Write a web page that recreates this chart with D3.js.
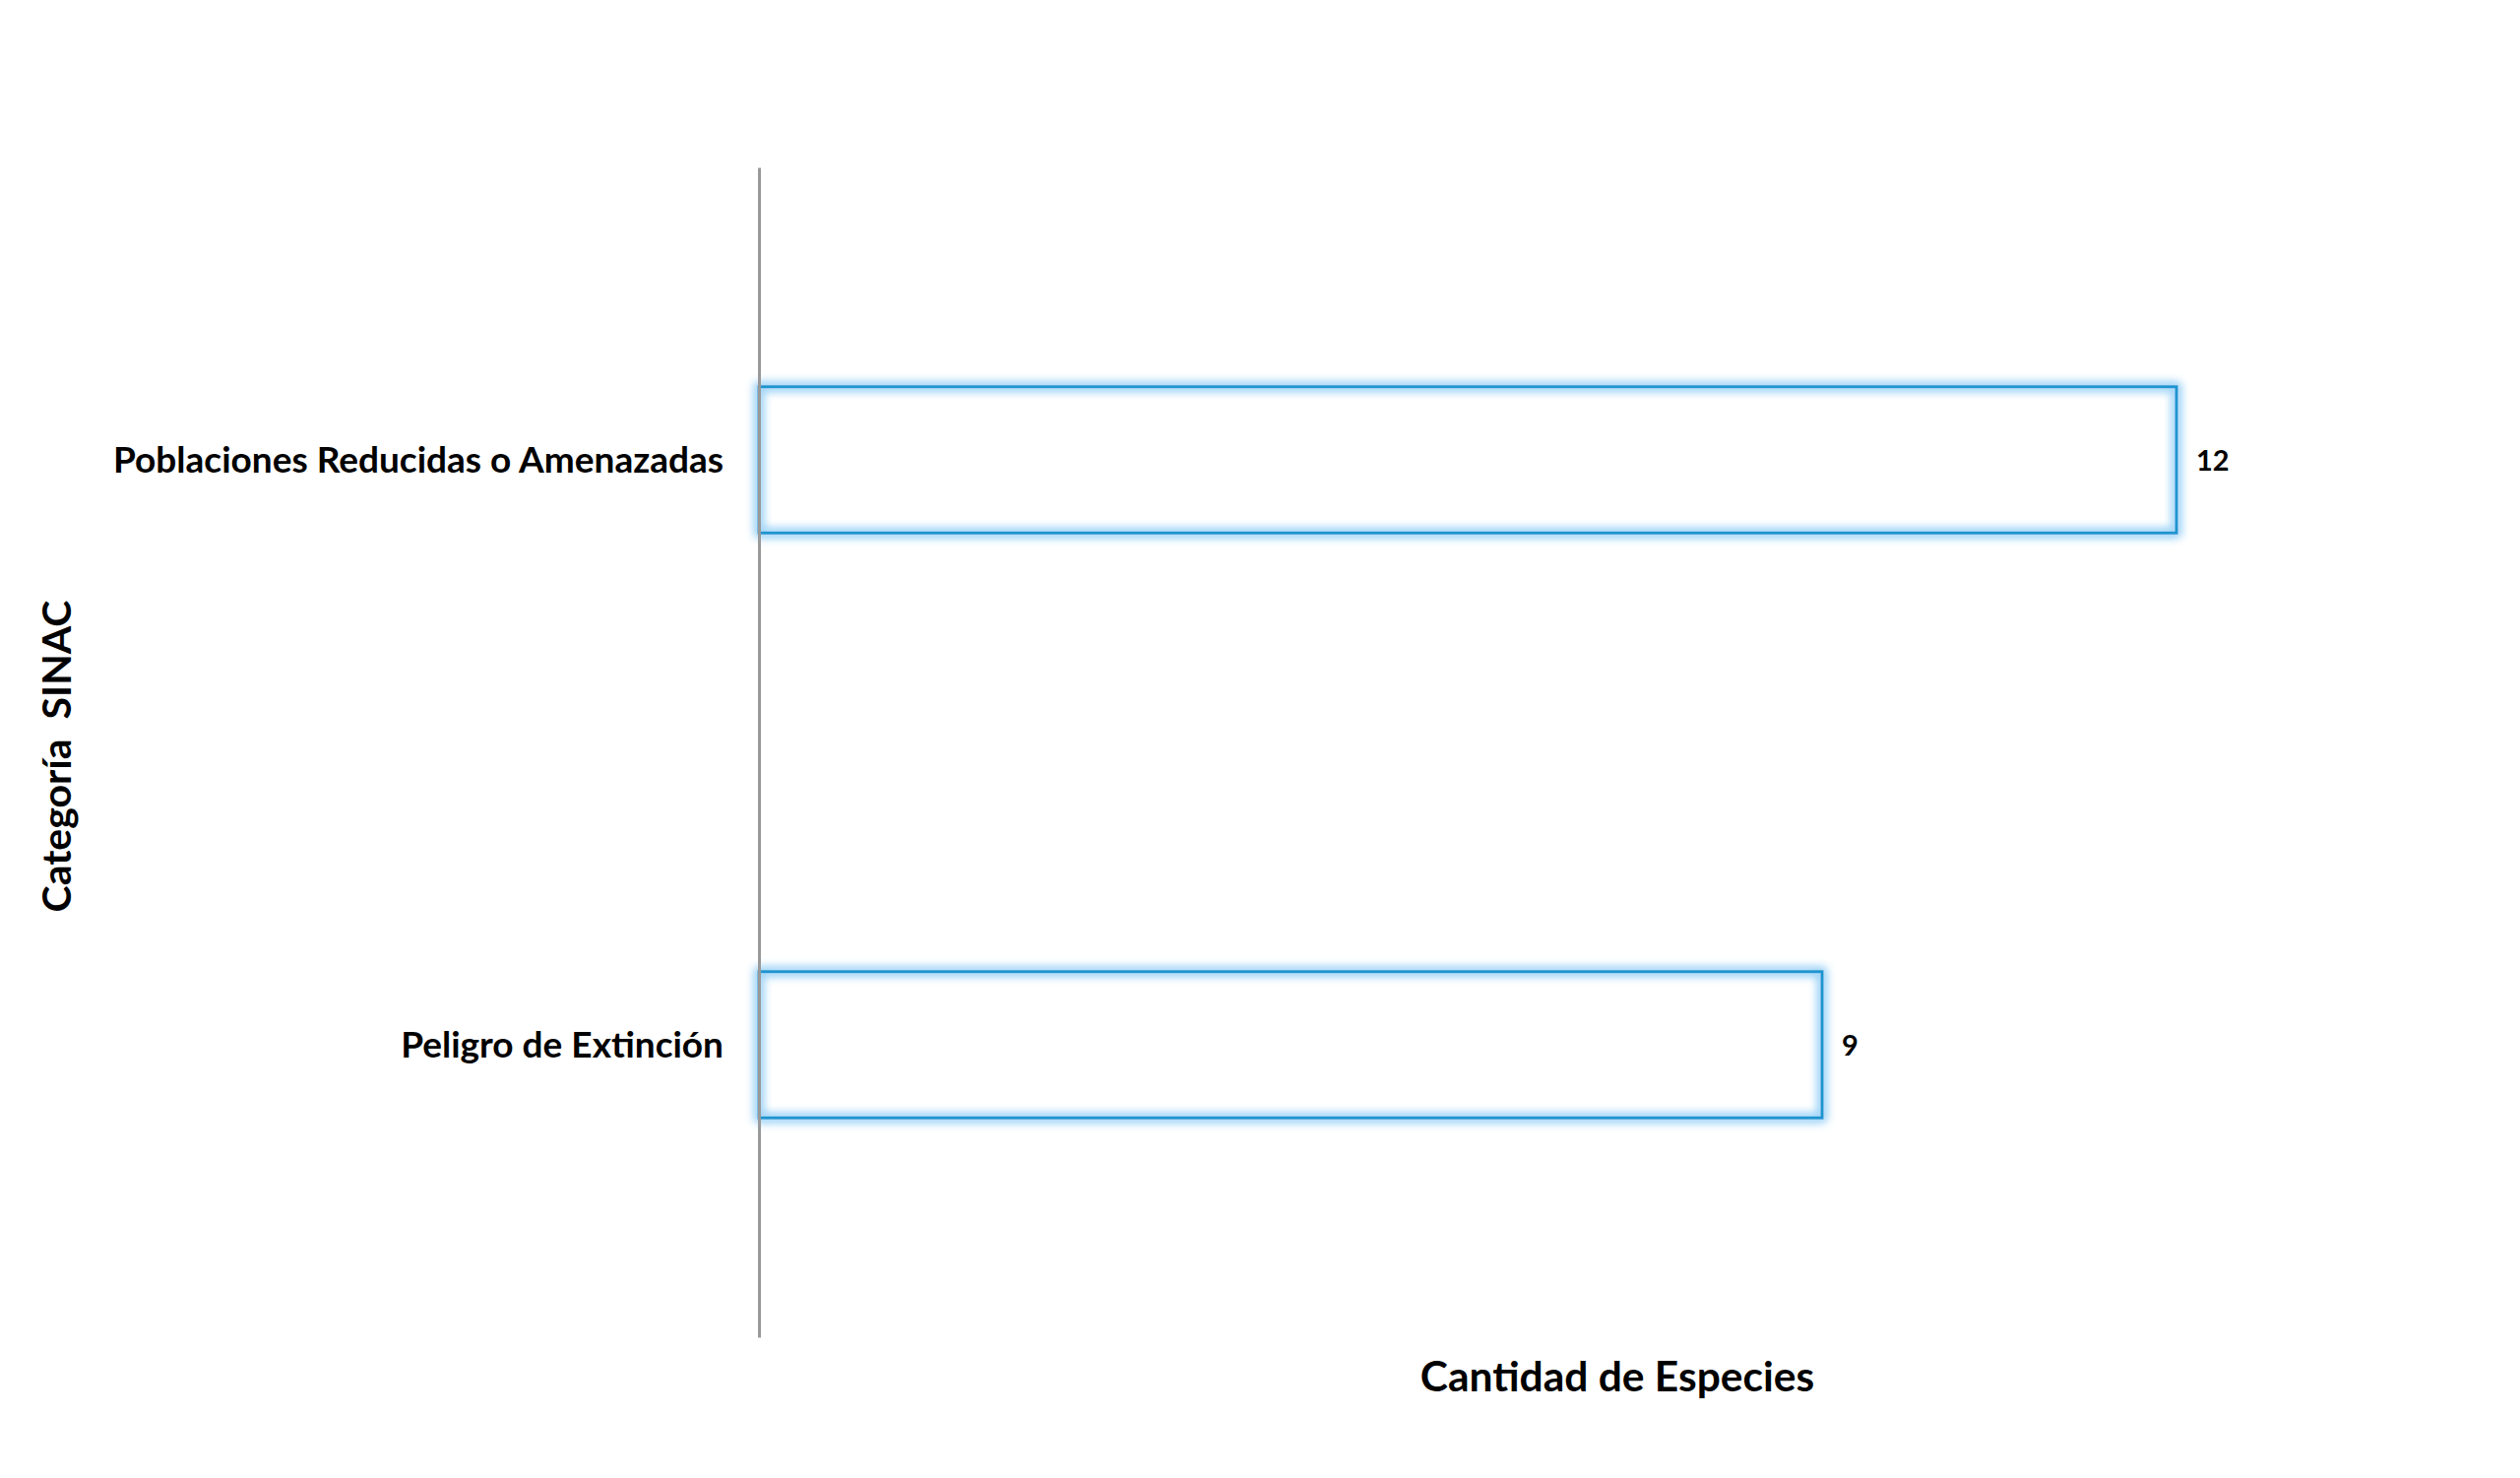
<!DOCTYPE html>
<html>
<head>
<meta charset="utf-8">
<script src="https://cdn.jsdelivr.net/npm/d3@7"></script>
<style>
  html, body { margin: 0; padding: 0; background: #fff; }
  svg text { font-family: "Lato", "Open Sans", sans-serif; font-weight: bold; fill: #000; }
</style>
</head>
<body>
<svg id="chart"></svg>
<script>
// chart data
const categories = ["Poblaciones Reducidas o Amenazadas", "Peligro de Extinción"];
const values = [12, 9];
const xTitle = "Cantidad de Especies";
const yTitle = "Categoría  SINAC";

const width = 2560, height = 1501;
const margin = { left: 771, top: 170, bottom: 143 };

const svg = d3.select("#chart")
    .attr("width", width)
    .attr("height", height);

// glow round the bar outline
const defs = svg.append("defs");
const glow = defs.append("filter")
    .attr("id", "glow")
    .attr("x", "-5%").attr("y", "-20%")
    .attr("width", "110%").attr("height", "140%");
glow.append("feMorphology").attr("in", "SourceAlpha").attr("operator", "dilate").attr("radius", 2).attr("result", "d");
glow.append("feGaussianBlur").attr("in", "d").attr("stdDeviation", 5).attr("result", "b");
glow.append("feFlood").attr("flood-color", "#9fd4f7").attr("result", "c");
glow.append("feComposite").attr("in", "c").attr("in2", "b").attr("operator", "in").attr("result", "g");
const merge = glow.append("feMerge");
merge.append("feMergeNode").attr("in", "g");
merge.append("feMergeNode").attr("in", "g");
merge.append("feMergeNode").attr("in", "SourceGraphic");

const x = d3.scaleLinear()
    .domain([0, 1])
    .range([margin.left, margin.left + 120]);

const y = d3.scaleBand()
    .domain(categories)
    .range([margin.top, height - margin.bottom])
    .paddingInner(0.75)
    .paddingOuter(0.375);

const data = categories.map((c, i) => ({ cat: c, value: values[i] }));

// bars
svg.append("g")
    .selectAll("rect")
    .data(data)
    .enter()
    .append("rect")
    .attr("x", x(0))
    .attr("y", d => y(d.cat))
    .attr("width", d => x(d.value) - x(0))
    .attr("height", y.bandwidth())
    .attr("fill", "none")
    .attr("stroke", "#1b95d0")
    .attr("stroke-width", 3)
    .attr("filter", "url(#glow)");

// value labels
svg.append("g")
    .selectAll("text")
    .data(data)
    .enter()
    .append("text")
    .attr("x", d => x(d.value) + 20)
    .attr("y", d => y(d.cat) + y.bandwidth() / 2 + 11)
    .style("font-size", "29px")
    .text(d => d.value);

// category axis
const yAxis = svg.append("g")
    .attr("transform", `translate(${x(0)},0)`)
    .call(d3.axisLeft(y).tickSize(0).tickSizeOuter(0).tickPadding(36));

yAxis.select(".domain")
    .attr("stroke", "#999")
    .attr("stroke-width", 3);

yAxis.selectAll(".tick text")
    .attr("dy", "0.36em")
    .style("font-size", "37px")
    .style("font-family", "Lato, sans-serif")
    .style("font-weight", "bold")
    .attr("fill", "#000");

// axis titles
svg.append("text")
    .attr("x", 1643)
    .attr("y", 1413)
    .attr("text-anchor", "middle")
    .style("font-size", "42.5px")
    .text(xTitle);

svg.append("text")
    .attr("transform", "translate(72,768) rotate(-90)")
    .attr("text-anchor", "middle")
    .style("font-size", "41px")
    .attr("xml:space", "preserve")
    .text(yTitle);
</script>
</body>
</html>
